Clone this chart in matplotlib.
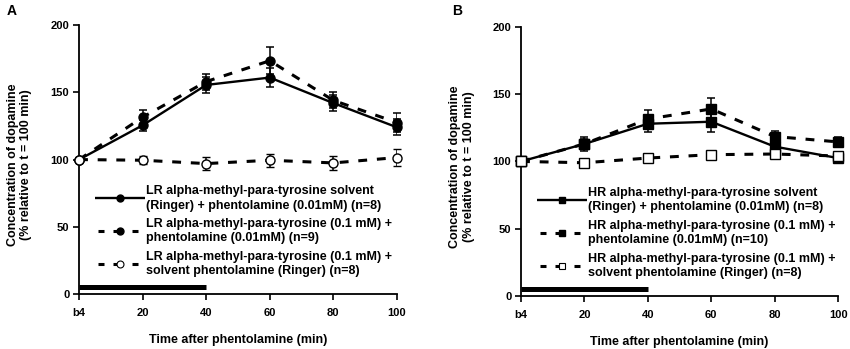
import matplotlib
matplotlib.use("Agg")
import matplotlib.pyplot as plt
from matplotlib.lines import Line2D
from matplotlib.legend_handler import HandlerBase

plt.rcParams['font.family'] = ['Liberation Sans', 'DejaVu Sans']
plt.rcParams['font.weight'] = 'bold'

time_points = [0, 20, 40, 60, 80, 100]
tick_labels = ["b4", "20", "40", "60", "80", "100"]

# Panel A (LR)
lr_solvent = [100, 125.5, 155.5, 161, 142, 124]
lr_solvent_err = [0, 4, 6, 7, 6, 6]
lr_ampt = [100, 131.5, 158, 173.5, 144, 127.5]
lr_ampt_err = [0, 5, 6, 10, 6, 7]
lr_ampt_ringer = [100, 99.5, 97, 99.5, 97.5, 101.5]
lr_ampt_ringer_err = [0, 3, 5, 5, 5, 6]

# Panel B (HR)
hr_solvent = [100, 113, 128, 129.5, 111, 102.5]
hr_solvent_err = [0, 4, 6, 8, 4, 4]
hr_ampt = [100, 113, 131.5, 139, 118.5, 114.5]
hr_ampt_err = [0, 5, 7, 8, 4, 4]
hr_ampt_ringer = [100, 99, 102.5, 105, 105.5, 104]
hr_ampt_ringer_err = [0, 2, 2, 3, 3, 3]

infusion_bar = [0, 40]
infusion_level = 5.5

legend_A = ["LR alpha-methyl-para-tyrosine solvent\n(Ringer) + phentolamine (0.01mM) (n=8)",
            "LR alpha-methyl-para-tyrosine (0.1 mM) +\nphentolamine (0.01mM) (n=9)",
            "LR alpha-methyl-para-tyrosine (0.1 mM) +\nsolvent phentolamine (Ringer) (n=8)"]
legend_B = ["HR alpha-methyl-para-tyrosine solvent\n(Ringer) + phentolamine (0.01mM) (n=8)",
            "HR alpha-methyl-para-tyrosine (0.1 mM) +\nphentolamine (0.01mM) (n=10)",
            "HR alpha-methyl-para-tyrosine (0.1 mM) +\nsolvent phentolamine (Ringer) (n=8)"]

fig = plt.figure(figsize=(8.5, 3.49), dpi=100)
axA = fig.add_axes([0.093, 0.1576, 0.374, 0.7704])
axB = fig.add_axes([0.613, 0.152, 0.373, 0.771])

dash = (0, (2.9, 3.2))


class SegHandler(HandlerBase):
    """Legend key drawn as explicit segments plus a centred marker."""
    def __init__(self, solid, **kw):
        super().__init__(**kw)
        self.solid = solid

    def create_artists(self, legend, orig_handle, xdescent, ydescent, width, height,
                       fontsize, trans):
        y = height / 2 - ydescent
        x0 = -xdescent
        if self.solid:
            segs = [(0.0, 1.0)]
        else:
            segs = [(0.06, 0.18), (0.36, 0.5), (0.74, 0.86)]
        arts = []
        for a, b in segs:
            ln = Line2D([x0 + a * width, x0 + b * width], [y, y], color='black',
                        lw=orig_handle.get_linewidth(), solid_capstyle='butt')
            ln.set_transform(trans)
            arts.append(ln)
        mk = Line2D([x0 + 0.5 * width], [y], ls='none', marker=orig_handle.get_marker(),
                    ms=orig_handle.get_markersize(), mfc=orig_handle.get_markerfacecolor(),
                    mec='black', mew=orig_handle.get_markeredgewidth())
        mk.set_transform(trans)
        arts.append(mk)
        return arts


def panel(ax, s, se, a, ae, r, re, labels, marker, letter, lx, ylab_x):
    ekw = dict(capsize=2.6, elinewidth=1.1, capthick=1.1)
    ax.errorbar(time_points, s, yerr=se, color='black', lw=1.7, ls='-', marker=marker,
                ms=6.5, mfc='black', mec='black', zorder=3, **ekw)
    ax.errorbar(time_points, a, yerr=ae, color='black', lw=2.2, ls=dash, marker=marker,
                ms=6.5, mfc='black', mec='black', zorder=3, **ekw)
    ax.errorbar(time_points, r, yerr=re, color='black', lw=2.2, ls=dash, marker=marker,
                ms=6.5, mfc='white', mec='black', mew=1, zorder=4, **ekw)
    ax.plot(infusion_bar, [infusion_level, infusion_level], color='black', lw=3.6,
            solid_capstyle='butt', zorder=2)
    ax.set_xlim(0, 100)
    ax.set_ylim(0, 200)
    ax.set_xticks(time_points)
    ax.set_xticklabels(tick_labels, fontsize=8, fontweight='bold')
    ax.set_yticks([0, 50, 100, 150, 200])
    ax.set_yticklabels(["0", "50", "100", "150", "200"], fontsize=8, fontweight='bold')
    for sp in ['top', 'right']:
        ax.spines[sp].set_visible(False)
    for sp in ['left', 'bottom']:
        ax.spines[sp].set_linewidth(1.3)
    ax.tick_params(direction='out', length=4, width=1.2, pad=3)
    ax.tick_params(axis='x', pad=6)
    for p in ax.lines:
        p.set_clip_on(False)
    ax.set_xlabel("Time after phentolamine (min)", fontsize=9, fontweight='bold')
    ax.xaxis.set_label_coords(0.5, -0.15)
    ax.set_ylabel("Concentration of dopamine\n(% relative to t = 100 min)", fontsize=9,
                  fontweight='bold', linespacing=1.15)
    ax.yaxis.set_label_coords(ylab_x, 0.48)
    h1 = Line2D([], [], color='black', lw=1.7, marker=marker, ms=5, mfc='black', mew=1)
    h2 = Line2D([], [], color='black', lw=2.2, marker=marker, ms=5, mfc='black', mew=1)
    h3 = Line2D([], [], color='black', lw=2.2, marker=marker, ms=5, mfc='white', mew=0.8)
    leg = ax.legend([h1, h2, h3], labels, loc='upper left', bbox_to_anchor=(0.05, 0.406),
                    frameon=False, fontsize=9, handlelength=4.0, handletextpad=0.12,
                    labelspacing=0.5, borderaxespad=0, borderpad=0,
                    handler_map={h1: SegHandler(True), h2: SegHandler(False),
                                 h3: SegHandler(False)})
    for t in leg.get_texts():
        t.set_fontweight('bold')
        t.set_linespacing(1.3)
    fig.text(lx, 0.968, letter, fontsize=10, fontweight='bold', ha='left', va='center')

panel(axA, lr_solvent, lr_solvent_err, lr_ampt, lr_ampt_err, lr_ampt_ringer, lr_ampt_ringer_err,
      legend_A, 'o', 'A', 0.008, -0.148)
panel(axB, hr_solvent, hr_solvent_err, hr_ampt, hr_ampt_err, hr_ampt_ringer, hr_ampt_ringer_err,
      legend_B, 's', 'B', 0.532, -0.146)

fig.savefig("out.png", dpi=100)
